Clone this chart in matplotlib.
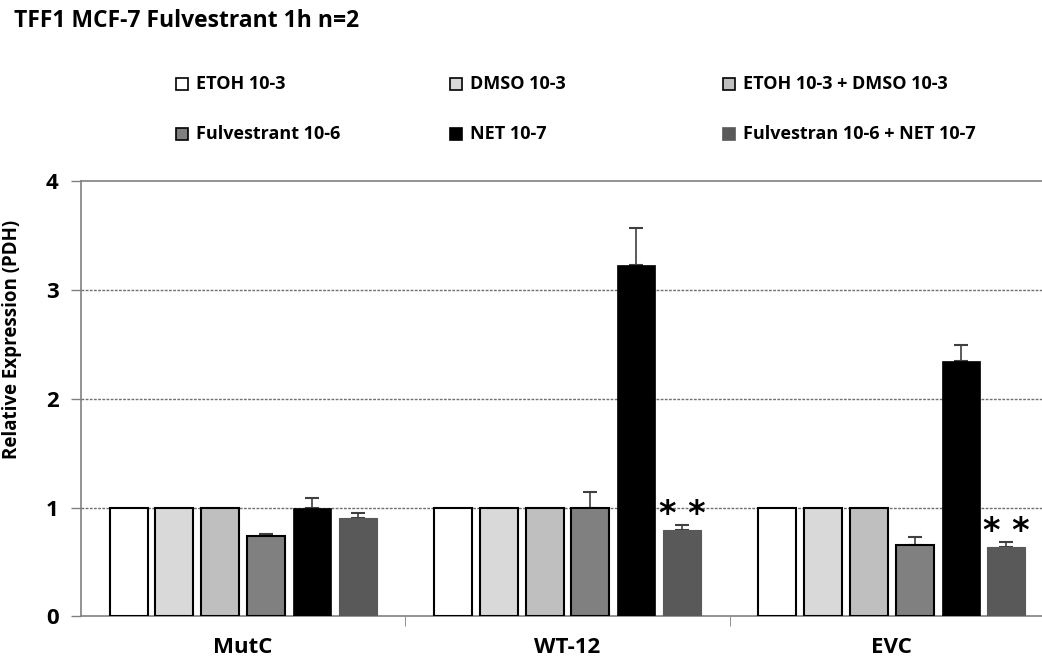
import matplotlib
matplotlib.use("Agg")
import matplotlib.pyplot as plt
from matplotlib.patches import Rectangle
import numpy as np

plt.rcParams['font.family'] = ['Open Sans', 'DejaVu Sans']
plt.rcParams['font.weight'] = 'bold'

title = "TFF1 MCF-7 Fulvestrant 1h n=2"
categories = ["MutC", "WT-12", "EVC"]
series = ["ETOH 10-3", "DMSO 10-3", "ETOH 10-3 + DMSO 10-3",
          "Fulvestrant 10-6", "NET 10-7", "Fulvestran 10-6 + NET 10-7"]

etoh = [1.0, 1.0, 1.0]
dmso = [1.0, 1.0, 1.0]
etoh_dmso = [1.0, 1.0, 1.0]
fulvestrant = [0.74, 1.0, 0.655]
net = [1.0, 3.23, 2.345]
fulv_net = [0.90, 0.79, 0.633]

etoh_err = [0.0, 0.0, 0.0]
dmso_err = [0.0, 0.0, 0.0]
etoh_dmso_err = [0.0, 0.0, 0.0]
fulvestrant_err = [0.015, 0.14, 0.075]
net_err = [0.09, 0.34, 0.15]
fulv_net_err = [0.05, 0.05, 0.05]

# significance marks above the combined-treatment bars
sig_marks = ["", "* *", "* *"]

values = [etoh, dmso, etoh_dmso, fulvestrant, net, fulv_net]
errors = [etoh_err, dmso_err, etoh_dmso_err, fulvestrant_err, net_err, fulv_net_err]
face_colors = ["#ffffff", "#d9d9d9", "#bfbfbf", "#808080", "#000000", "#595959"]
edge_colors = ["#000000", "#000000", "#000000", "#000000", "#000000", "#595959"]
edge_widths = [1.5, 1.5, 1.5, 1.5, 0.5, 0.8]

W, H = 1042, 658
fig = plt.figure(figsize=(W / 100, H / 100), dpi=100)
ax_bottom, ax_top = 616.3, 181.5
ax = fig.add_axes([81 / W, (H - ax_bottom) / H, 973 / W, (ax_bottom - ax_top) / H])

x = np.arange(len(categories))
pitch = 0.1412
width = 0.1171
for i, (vals, errs) in enumerate(zip(values, errors)):
    pos = x + (i - 2.5) * pitch
    ax.bar(pos, vals, width=width, color=face_colors[i],
           edgecolor=edge_colors[i], linewidth=edge_widths[i], zorder=3)
    if any(e > 0 for e in errs):
        ax.errorbar(pos, vals, yerr=[np.zeros(len(errs)), errs], fmt='none',
                    ecolor='#404040', elinewidth=1.2, capsize=5, capthick=1.5,
                    zorder=2)

for xi, v, e, s in zip(x, fulv_net, fulv_net_err, sig_marks):
    if s:
        ax.text(xi + 2.5 * pitch, v + e + 0.1, s, ha='center', va='center',
                fontsize=24, fontweight='bold', family='DejaVu Sans', zorder=4)

ax.set_xlim(-0.5, 2.5)
ax.set_ylim(0, 4)
ax.set_yticks([0, 1, 2, 3, 4])
ax.set_yticklabels(["0", "1", "2", "3", "4"], fontsize=16, fontweight='bold')
ax.set_xticks(x)
ax.set_xticklabels(categories, fontsize=16, fontweight='bold')
ax.set_xticks([0.5, 1.5], minor=True)
ax.tick_params(axis='x', which='major', length=0, pad=15)
ax.tick_params(axis='x', which='minor', length=7, color='#808080', direction='out')
ax.tick_params(axis='y', length=7, color='#808080', width=1, pad=9)

for yv in [1, 2, 3]:
    ax.axhline(yv, color='#707070', linewidth=1.0, linestyle=(0, (2, 1)), zorder=1)

for side in ['left', 'bottom', 'top']:
    ax.spines[side].set_color('#808080')
    ax.spines[side].set_linewidth(1.2)
ax.spines['right'].set_visible(False)

ax.set_ylabel("Relative Expression (PDH)", fontsize=13.5, fontweight='bold')
ax.yaxis.set_label_coords((22 - 81) / 973, (ax_bottom - 339) / (ax_bottom - ax_top))

fig.text(14 / W, 1 - 21 / H, title, fontsize=16.5, fontweight='bold', va='center', ha='left')

# legend: three fixed-width columns, two rows
col_x = [176, 450, 723]
row_y = [84, 134]
sw = 12
for i, name in enumerate(series):
    cx = col_x[i % 3]
    cy = row_y[i // 3]
    ec = edge_colors[i] if i < 4 else face_colors[i]
    fig.patches.append(Rectangle((cx / W, 1 - (cy + sw / 2) / H), sw / W, sw / H,
                                 transform=fig.transFigure, facecolor=face_colors[i],
                                 edgecolor=ec, linewidth=1.2))
    fig.text((cx + sw + 8) / W, 1 - cy / H, name, fontsize=13, fontweight='bold',
             va='center', ha='left')

fig.savefig("out.png", dpi=100)
